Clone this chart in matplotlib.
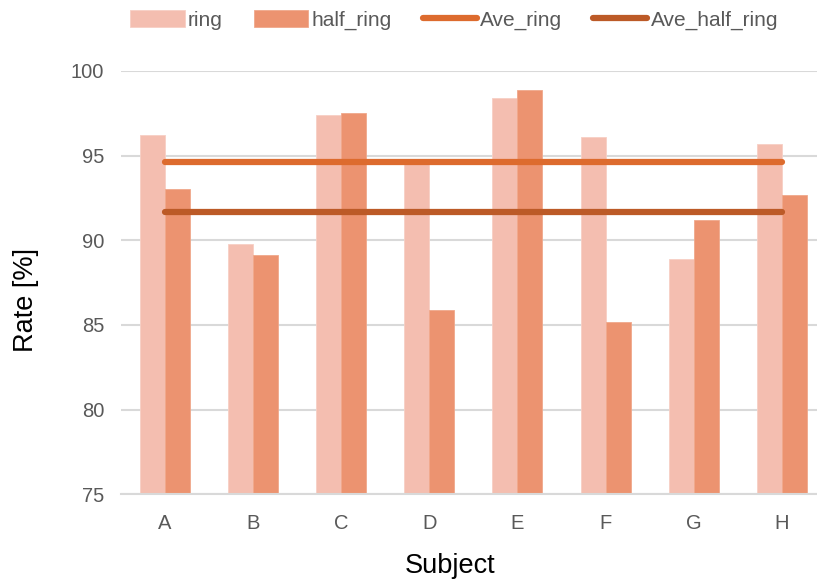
import numpy as np
import matplotlib
matplotlib.use("Agg")
import matplotlib.pyplot as plt

subjects = ["A", "B", "C", "D", "E", "F", "G", "H"]
ring = [96.2, 89.8, 97.4, 94.5, 98.4, 96.1, 88.9, 95.7]
half_ring = [93.0, 89.1, 97.5, 85.9, 98.9, 85.2, 91.2, 92.7]

# averages of both series, drawn as flat lines across the subjects
ave_ring = np.mean(ring)
ave_half_ring = np.mean(half_ring)

plt.rcParams['font.family'] = ['Liberation Sans', 'DejaVu Sans']

fig = plt.figure(figsize=(8.17, 5.8), dpi=100)
ax = fig.add_axes([0.148, 0.148, 0.852, 0.7296])

x = np.arange(len(subjects))
w = 0.284
b1 = ax.bar(x - w / 2, ring, w, color="#F4BEB0", edgecolor="#F7CFC4", lw=0.6,
            label="ring", zorder=2)
b2 = ax.bar(x + w / 2, half_ring, w, color="#EC9370", edgecolor="#F0A88B", lw=0.6,
            label="half_ring", zorder=2)
l1, = ax.plot([x[0], x[-1]], [ave_ring] * 2, color="#DD6B2E", lw=4.5,
              solid_capstyle="round", label="Ave_ring", zorder=3)
l2, = ax.plot([x[0], x[-1]], [ave_half_ring] * 2, color="#BC5A27", lw=4.5,
              solid_capstyle="round", label="Ave_half_ring", zorder=3)

ax.set_ylim(75, 100)
ax.set_xlim(-0.5, 7.4)
ax.set_yticks([75, 80, 85, 90, 95, 100])
ax.set_xticks(x)
ax.set_xticklabels(subjects)
ax.yaxis.grid(True, color="#D9D9D9", lw=1.5, zorder=0)
ax.set_axisbelow(True)
for s in ["top", "right", "left"]:
    ax.spines[s].set_visible(False)
ax.spines["bottom"].set_color("#D9D9D9")
ax.spines["bottom"].set_linewidth(1.5)
ax.tick_params(length=0, labelsize=14.5, labelcolor="#595959", pad=14)
ax.tick_params(axis="y", pad=12)

ax.set_ylabel("Rate [%]", fontsize=19.5, color="black")
ax.set_xlabel("Subject", fontsize=19.5, color="black")
ax.yaxis.set_label_coords(-0.118, 0.46)
ax.xaxis.set_label_coords(0.473, -0.14)

fig.legend([b1, b2, l1, l2], ["ring", "half_ring", "Ave_ring", "Ave_half_ring"],
           loc="upper center", bbox_to_anchor=(0.556, 1.015), ncol=4, frameon=False,
           fontsize=15, labelcolor="#595959", handlelength=2.6, handleheight=0.9,
           handletextpad=0.15, columnspacing=1.5)

fig.savefig("out.png", dpi=100)
